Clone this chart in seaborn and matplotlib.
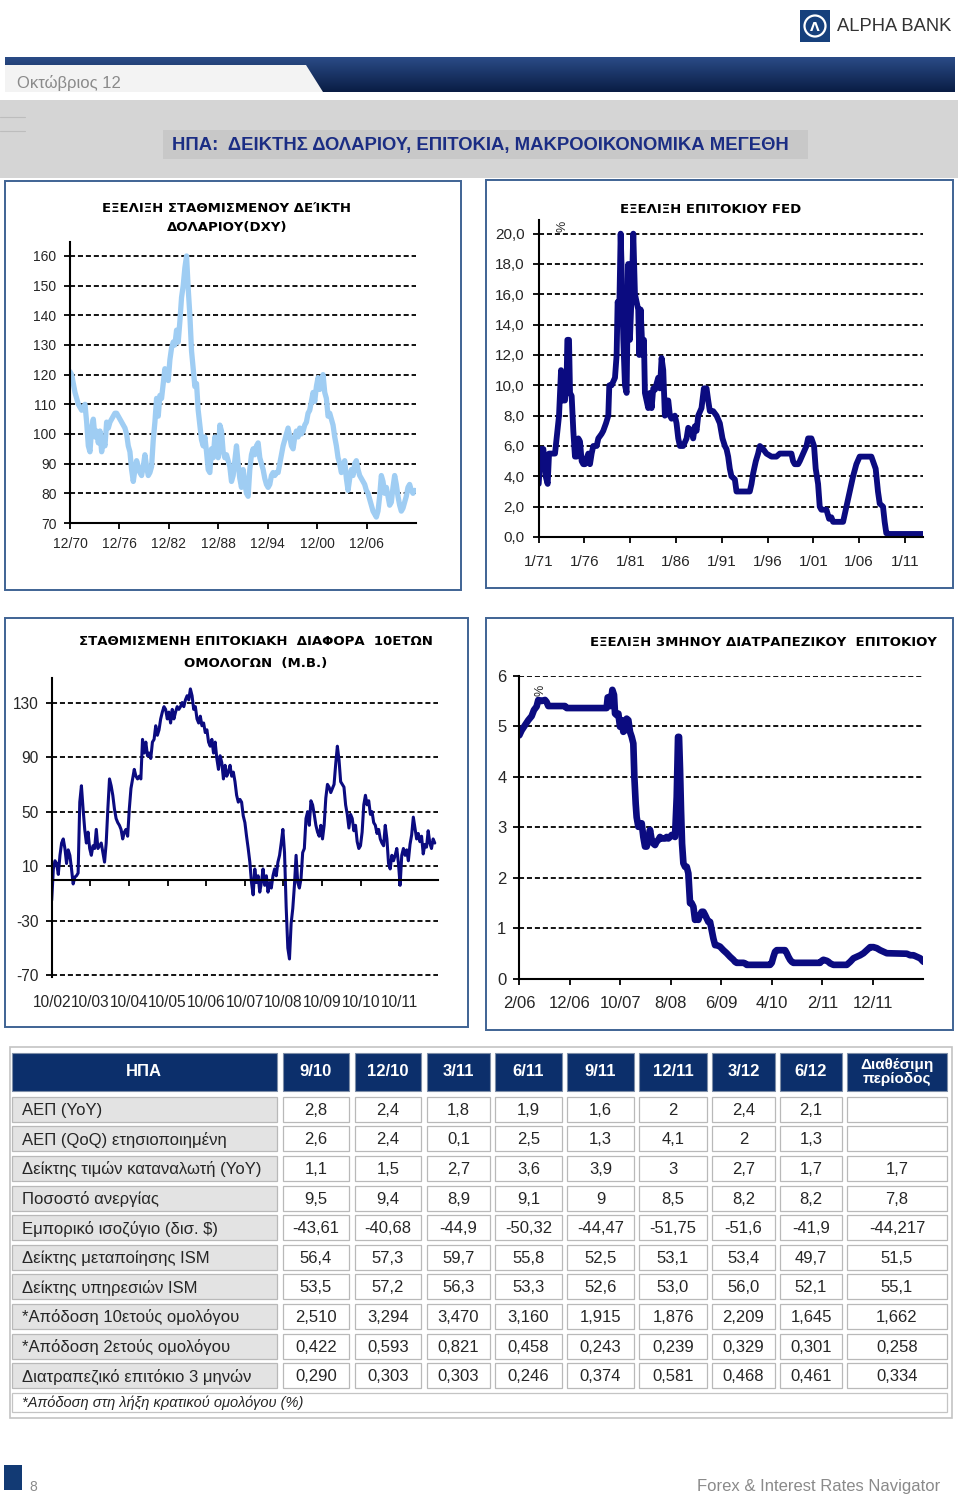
import numpy as np
import matplotlib
matplotlib.use('Agg')
import matplotlib.pyplot as plt
from matplotlib.colors import LinearSegmentedColormap
from matplotlib.patches import Rectangle, Polygon, Circle
import seaborn as sns

sns.set_style('white')
plt.rcParams['font.family'] = ['DejaVu Sans']
ARIAL = ['Liberation Sans', 'DejaVu Sans']
NARROW = ['Liberation Sans Narrow', 'Liberation Sans', 'DejaVu Sans']

# ---- chart 1: weighted dollar index (DXY), evenly sampled 12/70 - 10/12
dxy = [121, 120, 117, 114, 112, 110, 109, 108, 109, 110,
       104, 96, 94, 102, 105, 99, 101, 97, 101, 94,
       98, 96, 104, 102, 104, 105, 106, 107, 107, 106,
       105, 104, 103, 102, 100, 96, 94, 88, 84, 88,
       91, 89, 87, 86, 89, 93, 89, 86, 87, 89,
       98, 104, 112, 106, 113, 112, 117, 122, 120, 118,
       125, 129, 131, 130, 135, 131, 138, 146, 150, 156,
       160, 149, 140, 128, 122, 116, 117, 108, 103, 98,
       96, 99, 94, 88, 87, 95, 92, 99, 97, 92,
       103, 101, 94, 92, 93, 91, 89, 84, 86, 91,
       96, 90, 85, 82, 88, 84, 80, 79, 88, 93,
       95, 93, 96, 97, 92, 90, 88, 85, 83, 82,
       83, 86, 87, 86, 87, 87, 90, 93, 96, 98,
       100, 102, 99, 96, 95, 99, 101, 99, 102, 100,
       101, 103, 104, 107, 108, 111, 114, 111, 116, 119,
       115, 118, 120, 114, 112, 106, 107, 105, 103, 99,
       96, 92, 90, 87, 89, 91, 85, 81, 85, 88,
       86, 90, 91, 88, 86, 85, 84, 83, 81, 80,
       78, 76, 74, 73, 72, 74, 79, 86, 84, 80,
       82, 79, 76, 77, 82, 86, 83, 79, 76, 74,
       75, 77, 79, 82, 83, 81, 80, 81]
dxy_period = ('12/70', '10/12')
dxy_yticks = [70, 80, 90, 100, 110, 120, 130, 140, 150, 160]
dxy_xlabels = ['12/70', '12/76', '12/82', '12/88', '12/94', '12/00', '12/06']
dxy_xend = '12/12'

# ---- chart 2: FED funds rate
fed_year = [1971.00, 1971.22, 1971.51, 1971.76, 1971.98, 1972.13, 1972.42, 1972.78, 1972.96, 1973.22,
            1973.44, 1973.62, 1973.87, 1974.05, 1974.13, 1974.31, 1974.42, 1974.60, 1974.78, 1974.96,
            1975.15, 1975.33, 1975.51, 1975.69, 1975.87, 1976.05, 1976.24, 1976.42, 1976.60, 1976.78,
            1976.96, 1977.33, 1977.51, 1977.87, 1978.05, 1978.35, 1978.60, 1978.71, 1978.96, 1979.33,
            1979.51, 1979.62, 1979.80, 1979.95, 1980.09, 1980.24, 1980.42, 1980.60, 1980.78, 1980.96,
            1981.15, 1981.33, 1981.51, 1981.69, 1981.87, 1981.98, 1982.13, 1982.35, 1982.49, 1982.60,
            1982.78, 1982.96, 1983.15, 1983.33, 1983.51, 1983.69, 1984.05, 1984.24, 1984.42, 1984.60,
            1984.78, 1984.96, 1985.15, 1985.33, 1985.51, 1985.87, 1986.05, 1986.24, 1986.42, 1986.78,
            1987.15, 1987.33, 1987.69, 1987.87, 1988.05, 1988.24, 1988.42, 1988.78, 1989.04, 1989.33,
            1989.51, 1989.69, 1990.05, 1990.42, 1990.78, 1991.07, 1991.33, 1991.51, 1991.69, 1991.87,
            1992.05, 1992.42, 1992.60, 1993.33, 1994.05, 1994.24, 1994.42, 1994.71, 1994.96, 1995.15,
            1995.51, 1995.87, 1996.42, 1996.96, 1997.33, 1997.69, 1998.24, 1998.60, 1998.78, 1998.96,
            1999.33, 1999.51, 1999.87, 2000.24, 2000.42, 2000.78, 2001.07, 2001.25, 2001.51, 2001.69,
            2001.87, 2002.42, 2002.71, 2002.96, 2003.15, 2003.87, 2004.24, 2004.42, 2004.60, 2004.96,
            2005.33, 2005.69, 2006.05, 2006.42, 2006.96, 2007.33, 2007.51, 2007.80, 2008.05, 2008.24,
            2008.60, 2008.78, 2008.96, 2009.33, 2012.96]
fed_rate = [3.5, 5.8, 5.8, 4.0, 3.5, 5.5, 5.5, 5.5, 6.5, 8.0,
            11.0, 9.0, 9.0, 10.5, 13.0, 13.0, 9.5, 9.3, 7.0, 5.3,
            5.3, 6.5, 6.3, 5.0, 4.8, 4.8, 5.2, 5.5, 4.8, 5.5,
            6.0, 6.0, 6.5, 6.8, 7.0, 7.5, 8.0, 10.0, 10.0, 10.5,
            12.0, 15.5, 15.0, 20.0, 17.0, 13.0, 10.0, 9.5, 18.0, 13.0,
            16.0, 20.0, 16.0, 15.5, 15.0, 12.0, 15.0, 12.0, 13.0, 9.5,
            9.0, 8.5, 9.5, 8.5, 9.8, 9.7, 10.5, 9.8, 11.8, 11.0,
            8.0, 9.0, 9.0, 8.0, 7.8, 8.0, 7.5, 6.5, 6.0, 6.0,
            6.5, 7.2, 7.0, 6.5, 7.3, 7.0, 8.0, 8.5, 9.8, 9.8,
            9.0, 8.3, 8.3, 8.0, 7.5, 6.5, 6.0, 5.8, 5.3, 4.5,
            4.0, 3.8, 3.0, 3.0, 3.0, 3.5, 4.2, 5.0, 5.5, 6.0,
            5.8, 5.5, 5.3, 5.3, 5.5, 5.5, 5.5, 5.5, 5.0, 4.8,
            4.8, 5.0, 5.5, 6.0, 6.5, 6.5, 6.0, 4.5, 3.5, 2.0,
            1.8, 1.8, 1.2, 1.3, 1.0, 1.0, 1.0, 1.5, 2.0, 3.0,
            4.0, 4.8, 5.3, 5.3, 5.3, 5.3, 5.0, 4.5, 3.0, 2.2,
            2.0, 1.0, 0.25, 0.2, 0.2]
fed_yticks = [0, 2, 4, 6, 8, 10, 12, 14, 16, 18, 20]
fed_xlabels = ['1/71', '1/76', '1/81', '1/86', '1/91', '1/96', '1/01', '1/06', '1/11']
fed_xend = '1/13'

# ---- chart 3: weighted 10y bond spread (bp), evenly sampled 10/02 - 9/12
spread = [-15, 8, 14, 12, 4, 18, 27, 30, 23, 12,
          22, 18, 8, -3, 2, 3, 5, 57, 69, 52,
          37, 27, 35, 23, 18, 25, 23, 37, 23, 25,
          27, 20, 13, 27, 52, 74, 69, 62, 52, 45,
          42, 40, 37, 30, 35, 37, 32, 52, 67, 74,
          81, 76, 74, 76, 74, 103, 93, 101, 91, 93,
          89, 101, 103, 113, 106, 110, 118, 123, 127, 125,
          118, 123, 115, 125, 118, 123, 127, 125, 127, 130,
          127, 132, 135, 132, 140, 135, 125, 127, 118, 115,
          120, 113, 115, 108, 110, 101, 98, 103, 93, 101,
          89, 81, 91, 86, 74, 84, 76, 79, 84, 76,
          79, 72, 62, 57, 59, 57, 47, 42, 32, 23,
          13, -2, -11, 8, -2, 3, -9, -2, 8, -4,
          3, -9, -2, -6, 3, 8, 3, 13, 18, 27,
          37, 20, -20, -50, -58, -32, -21, -4, 18, -2,
          -6, 1, 20, 23, 45, 50, 40, 58, 55, 48,
          40, 35, 32, 40, 30, 40, 60, 70, 68, 64,
          67, 70, 85, 98, 88, 72, 70, 68, 55, 48,
          38, 48, 45, 36, 40, 28, 23, 25, 35, 55,
          62, 55, 58, 48, 50, 42, 40, 34, 37, 30,
          27, 25, 40, 30, 12, 8, 18, 14, 18, 23,
          12, -4, 18, 23, 18, 22, 14, 26, 33, 46,
          38, 30, 34, 28, 32, 19, 26, 24, 36, 27,
          23, 30, 27]
spread_period = ('10/02', '9/12')
spread_yticks = [-70, -30, 10, 50, 90, 130]
spread_xlabels = ['10/02', '10/03', '10/04', '10/05', '10/06', '10/07', '10/08', '10/09', '10/10', '10/11']
spread_xend = '10/12'

# ---- chart 4: 3-month interbank rate
libor_year = [2006.083, 2006.122, 2006.177, 2006.232, 2006.287, 2006.325, 2006.369, 2006.397, 2006.452, 2006.507,
              2006.534, 2006.562, 2006.837, 2006.865, 2007.525, 2007.542, 2007.569, 2007.591, 2007.619, 2007.646,
              2007.663, 2007.690, 2007.718, 2007.745, 2007.773, 2007.800, 2007.828, 2007.855, 2007.883, 2007.910,
              2007.938, 2007.965, 2007.982, 2008.004, 2008.020, 2008.048, 2008.075, 2008.103, 2008.130, 2008.158,
              2008.185, 2008.213, 2008.240, 2008.268, 2008.295, 2008.323, 2008.350, 2008.378, 2008.405, 2008.433,
              2008.460, 2008.488, 2008.515, 2008.543, 2008.571, 2008.598, 2008.626, 2008.653, 2008.681, 2008.703,
              2008.719, 2008.736, 2008.752, 2008.769, 2008.791, 2008.818, 2008.846, 2008.873, 2008.901, 2008.928,
              2008.956, 2008.983, 2009.011, 2009.038, 2009.066, 2009.093, 2009.121, 2009.148, 2009.176, 2009.203,
              2009.231, 2009.258, 2009.286, 2009.314, 2009.341, 2009.396, 2009.451, 2009.506, 2009.561, 2009.616,
              2009.644, 2009.671, 2009.781, 2009.809, 2009.836, 2010.222, 2010.249, 2010.277, 2010.304, 2010.332,
              2010.469, 2010.497, 2010.524, 2010.552, 2010.580, 2010.607, 2011.047, 2011.075, 2011.102, 2011.157,
              2011.185, 2011.212, 2011.267, 2011.487, 2011.515, 2011.543, 2011.598, 2011.653, 2011.708, 2011.763,
              2011.818, 2011.873, 2011.928, 2011.983, 2012.038, 2012.093, 2012.148, 2012.478, 2012.533, 2012.588,
              2012.643, 2012.698, 2012.753]
libor_rate = [4.82, 4.92, 5.02, 5.12, 5.20, 5.32, 5.39, 5.52, 5.50, 5.52,
              5.48, 5.40, 5.40, 5.36, 5.36, 5.57, 5.58, 5.40, 5.72, 5.62,
              5.25, 5.22, 5.25, 4.99, 5.12, 4.89, 4.92, 5.15, 5.12, 4.89,
              4.79, 4.66, 4.00, 3.47, 3.20, 3.01, 3.08, 3.08, 2.81, 2.62,
              2.62, 2.75, 2.95, 2.75, 2.68, 2.65, 2.72, 2.75, 2.81, 2.78,
              2.78, 2.78, 2.81, 2.78, 2.81, 2.85, 2.85, 2.81, 3.60, 4.79,
              4.79, 4.13, 3.34, 2.68, 2.29, 2.22, 2.22, 2.09, 1.50, 1.50,
              1.43, 1.17, 1.20, 1.17, 1.27, 1.33, 1.33, 1.27, 1.20, 1.13,
              1.13, 0.97, 0.80, 0.67, 0.67, 0.64, 0.57, 0.51, 0.44, 0.38,
              0.34, 0.32, 0.32, 0.31, 0.28, 0.28, 0.32, 0.44, 0.54, 0.57,
              0.57, 0.51, 0.44, 0.38, 0.34, 0.32, 0.32, 0.36, 0.38, 0.36,
              0.34, 0.31, 0.28, 0.28, 0.31, 0.34, 0.41, 0.44, 0.47, 0.51,
              0.57, 0.63, 0.63, 0.61, 0.57, 0.54, 0.51, 0.50, 0.47, 0.47,
              0.44, 0.41, 0.34]
libor_yticks = [0, 1, 2, 3, 4, 5, 6]
libor_xlabels = ['2/06', '12/06', '10/07', '8/08', '6/09', '4/10', '2/11', '12/11']
libor_xend = '10/12'

# ---- macro table
table_cols = ['9/10', '12/10', '3/11', '6/11', '9/11', '12/11', '3/12', '6/12', 'Διαθέσιμη\nπερίοδος']
table_rows = ['ΑΕΠ (YoY)', 'ΑΕΠ (QoQ) ετησιοποιημένη', 'Δείκτης τιμών καταναλωτή (YoY)',
              'Ποσοστό ανεργίας', 'Εμπορικό ισοζύγιο (δισ. $)', 'Δείκτης μεταποίησης ISM',
              'Δείκτης υπηρεσιών ISM', '*Απόδοση 10ετούς ομολόγου', '*Απόδοση 2ετούς ομολόγου',
              'Διατραπεζικό επιτόκιο 3 μηνών']
gdp_yoy = ['2,8', '2,4', '1,8', '1,9', '1,6', '2', '2,4', '2,1', '']
gdp_qoq = ['2,6', '2,4', '0,1', '2,5', '1,3', '4,1', '2', '1,3', '']
cpi_yoy = ['1,1', '1,5', '2,7', '3,6', '3,9', '3', '2,7', '1,7', '1,7']
unemployment = ['9,5', '9,4', '8,9', '9,1', '9', '8,5', '8,2', '8,2', '7,8']
trade_balance = ['-43,61', '-40,68', '-44,9', '-50,32', '-44,47', '-51,75', '-51,6', '-41,9', '-44,217']
ism_manuf = ['56,4', '57,3', '59,7', '55,8', '52,5', '53,1', '53,4', '49,7', '51,5']
ism_serv = ['53,5', '57,2', '56,3', '53,3', '52,6', '53,0', '56,0', '52,1', '55,1']
yield_10y = ['2,510', '3,294', '3,470', '3,160', '1,915', '1,876', '2,209', '1,645', '1,662']
yield_2y = ['0,422', '0,593', '0,821', '0,458', '0,243', '0,239', '0,329', '0,301', '0,258']
libor_3m = ['0,290', '0,303', '0,303', '0,246', '0,374', '0,581', '0,468', '0,461', '0,334']
table_values = [gdp_yoy, gdp_qoq, cpi_yoy, unemployment, trade_balance,
                ism_manuf, ism_serv, yield_10y, yield_2y, libor_3m]
table_note = '*Απόδοση στη λήξη κρατικού ομολόγου (%)'


def to_year(label):
    m, y = label.split('/')
    y = int(y)
    return (2000 + y if y < 30 else 1900 + y) + (int(m) - 1) / 12


W, H = 960, 1499
NAVY = '#0c2f6b'
LINE_NAVY = '#0b0b80'
fig = plt.figure(figsize=(W / 100, H / 100), dpi=100)
bg = fig.add_axes([0, 0, 1, 1])
bg.axis('off')


def rect(l, t, r, b, **kw):
    bg.add_patch(Rectangle((l, t), r - l, b - t, **kw))


# header: logo, band, title banner
rect(800, 10, 830, 42, fc='#16407c', ec='none')
bg.add_patch(Circle((815, 26), 10.5, fill=False, ec='white', lw=1.6))
bg.text(815, 27, 'Λ', color='white', fontsize=9, fontweight='bold', ha='center', va='center')
bg.text(837, 26, 'ALPHA BANK', color='#333333', fontsize=13.2, family=ARIAL, va='center')
band = LinearSegmentedColormap.from_list('band', ['#2a4b86', '#0a1d45'])
bg.imshow(np.linspace(0, 1, 40).reshape(-1, 1), cmap=band, extent=(5, 955, 92, 57),
          aspect='auto', zorder=1)
bg.add_patch(Polygon([(5, 65), (306, 65), (323, 92), (5, 92)], closed=True,
                     fc='#f3f3f3', ec='none', zorder=2))
bg.text(17, 83, 'Οκτώβριος 12', color='#8a8a8a', fontsize=12, family=ARIAL, va='center', zorder=3)
rect(0, 100, 958, 178, fc='#d5d5d5', ec='none')
rect(163, 130, 808, 159, fc='#c8c8c8', ec='none')
bg.plot([0, 25], [117, 117], color='#bdbdbd', lw=0.8)
bg.plot([0, 25], [131, 131], color='#bdbdbd', lw=0.8)
bg.text(480, 145, 'ΗΠΑ:  ΔΕΙΚΤΗΣ ΔΟΛΑΡΙΟΥ, ΕΠΙΤΟΚΙΑ, ΜΑΚΡΟΟΙΚΟΝΟΜΙΚΑ ΜΕΓΕΘΗ',
        color='#1b2d84', fontsize=13.3, fontweight='bold', family=NARROW, ha='center', va='center')

# chart panels
for l, t, r, b in [(5, 181, 461, 590), (486, 180, 953, 588), (5, 618, 468, 1027), (486, 618, 953, 1030)]:
    rect(l, t, r, b, fc='white', ec='#3f6394', lw=1.4)

TITLE = dict(fontsize=9.5, fontweight='bold', ha='center', va='center', color='black')
bg.text(227, 208, 'ΕΞΕΛΙΞΗ ΣΤΑΘΜΙΣΜΕΝΟΥ ΔΕΊΚΤΗ', **TITLE)
bg.text(227, 227, 'ΔΟΛΑΡΙΟΥ(DXY)', **TITLE)
bg.text(711, 209, 'ΕΞΕΛΙΞΗ ΕΠΙΤΟΚΙΟΥ FED', **TITLE)
bg.text(256, 641, 'ΣΤΑΘΜΙΣΜΕΝΗ ΕΠΙΤΟΚΙΑΚΗ  ΔΙΑΦΟΡΑ  10ΕΤΩΝ', **TITLE)
bg.text(256, 663, 'ΟΜΟΛΟΓΩΝ  (Μ.Β.)', **TITLE)
bg.text(763, 642, 'ΕΞΕΛΙΞΗ 3ΜΗΝΟΥ ΔΙΑΤΡΑΠΕΖΙΚΟΥ  ΕΠΙΤΟΚΙΟΥ', **TITLE)
bg.text(562, 226, '%', rotation=90, fontsize=9, family=ARIAL, ha='center', va='center')
bg.text(540, 690, '%', rotation=90, fontsize=9, family=ARIAL, ha='center', va='center')


def chart_axes(l, t, r, b):
    ax = fig.add_axes([l / W, 1 - b / H, (r - l) / W, (b - t) / H])
    ax.patch.set_alpha(0)
    sns.despine(ax=ax)
    for s in ('left', 'bottom'):
        ax.spines[s].set_linewidth(1.5)
        ax.spines[s].set_color('black')
    ax.grid(axis='y', color='black', linestyle=(0, (2.8, 1.6)), linewidth=1.3)
    ax.grid(axis='x', visible=False)
    ax.set_axisbelow(True)
    ax.tick_params(axis='both', direction='out', length=4, width=1.3, color='black',
                   left=True, bottom=True)
    return ax


def finish(ax, xlabels, xend, ylim, yticks, ylabels, fs, xpad, ypad):
    ax.set_xlim(to_year(xlabels[0]), to_year(xend))
    ax.set_ylim(*ylim)
    ax.set_xticks([to_year(s) for s in xlabels], labels=xlabels, family=ARIAL, fontsize=fs)
    ax.set_yticks(yticks, labels=ylabels, family=ARIAL, fontsize=fs)
    ax.tick_params(axis='x', pad=xpad)
    ax.tick_params(axis='y', pad=ypad)
    ax.set_xlabel('')
    ax.set_ylabel('')


# chart 1
ax1 = chart_axes(70, 242, 416, 523)
dxy_year = np.linspace(to_year(dxy_period[0]), to_year(dxy_period[1]), len(dxy))
sns.lineplot(x=dxy_year, y=dxy, ax=ax1, color='#9fcdf3', linewidth=3.8,
             estimator=None, sort=False, solid_joinstyle='round')
finish(ax1, dxy_xlabels, dxy_xend, (70, 164.7), dxy_yticks, [str(v) for v in dxy_yticks],
       10, 5.8, 5.8)

# chart 2
ax2 = chart_axes(538.7, 220, 923.3, 537)
sns.lineplot(x=fed_year, y=fed_rate, ax=ax2, color=LINE_NAVY, linewidth=4.2,
             estimator=None, sort=False, solid_joinstyle='round')
finish(ax2, fed_xlabels, fed_xend, (0, 20.9), fed_yticks,
       [f'{v:.1f}'.replace('.', ',') for v in fed_yticks], 11, 8.6, 6.3)

# chart 3
ax3 = chart_axes(51.7, 678, 438, 976.7)
spread_year = np.linspace(to_year(spread_period[0]), to_year(spread_period[1]), len(spread))
sns.lineplot(x=spread_year, y=spread, ax=ax3, color=LINE_NAVY, linewidth=2.2,
             estimator=None, sort=False, solid_joinstyle='round')
ax3.spines['bottom'].set_position(('data', 0))
finish(ax3, spread_xlabels, spread_xend, (-71, 148), spread_yticks,
       [str(v) for v in spread_yticks], 11.2, 78.8, 5.5)

# chart 4
ax4 = chart_axes(519.3, 675.7, 923.3, 979)
sns.lineplot(x=libor_year, y=libor_rate, ax=ax4, color=LINE_NAVY, linewidth=4.8,
             estimator=None, sort=False, solid_joinstyle='round')
finish(ax4, libor_xlabels, libor_xend, (0, 6), libor_yticks,
       [str(v) for v in libor_yticks], 12, 8.4, 5.3)

# table
col_x = [(283, 349), (355, 421), (427, 490), (495, 562), (567, 634), (639, 707),
         (712, 775), (780, 842), (847, 947)]
rect(10, 1047, 952, 1418, fc='white', ec='#c4c4c4', lw=1.2)
rect(12, 1053, 277, 1091, fc=NAVY, ec='#7f8fa8', lw=0.8)
bg.text(144, 1072, 'ΗΠΑ', color='white', fontsize=12, fontweight='bold', family=ARIAL,
        ha='center', va='center')
for (l, r), name in zip(col_x, table_cols):
    rect(l, 1053, r, 1091, fc=NAVY, ec='#7f8fa8', lw=0.8)
    bg.text((l + r) / 2, 1072, name, color='white', fontsize=12 if '\n' not in name else 11,
            fontweight='bold', family=ARIAL, ha='center', va='center', linespacing=0.95)
for i, (name, vals) in enumerate(zip(table_rows, table_values)):
    top = 1096.7 + i * 29.6
    rect(12, top, 277, top + 25, fc='#e3e3e3', ec='#b9b9b9', lw=0.9)
    bg.text(22, top + 13.5, name, fontsize=12, family=ARIAL, va='center')
    for (l, r), v in zip(col_x, vals):
        rect(l, top, r, top + 25, fc='white', ec='#b9b9b9', lw=0.9)
        bg.text((l + r) / 2, top + 13.5, v, fontsize=12, family=ARIAL, ha='center', va='center')
rect(12, 1393, 947, 1412, fc='white', ec='#c4c4c4', lw=0.9)
bg.text(22, 1403, table_note, fontsize=10.5, style='italic', family=ARIAL, va='center')

# footer
rect(4, 1465, 22, 1490, fc='#123a74', ec='none')
bg.text(29, 1487, '8', color='#8a8a8a', fontsize=10, family=ARIAL, va='center')
bg.text(940, 1487, 'Forex & Interest Rates Navigator', color='#8a8a8a', fontsize=12,
        family=ARIAL, ha='right', va='center')

bg.set_xlim(0, W)
bg.set_ylim(H, 0)
fig.savefig('out.png', dpi=100)
